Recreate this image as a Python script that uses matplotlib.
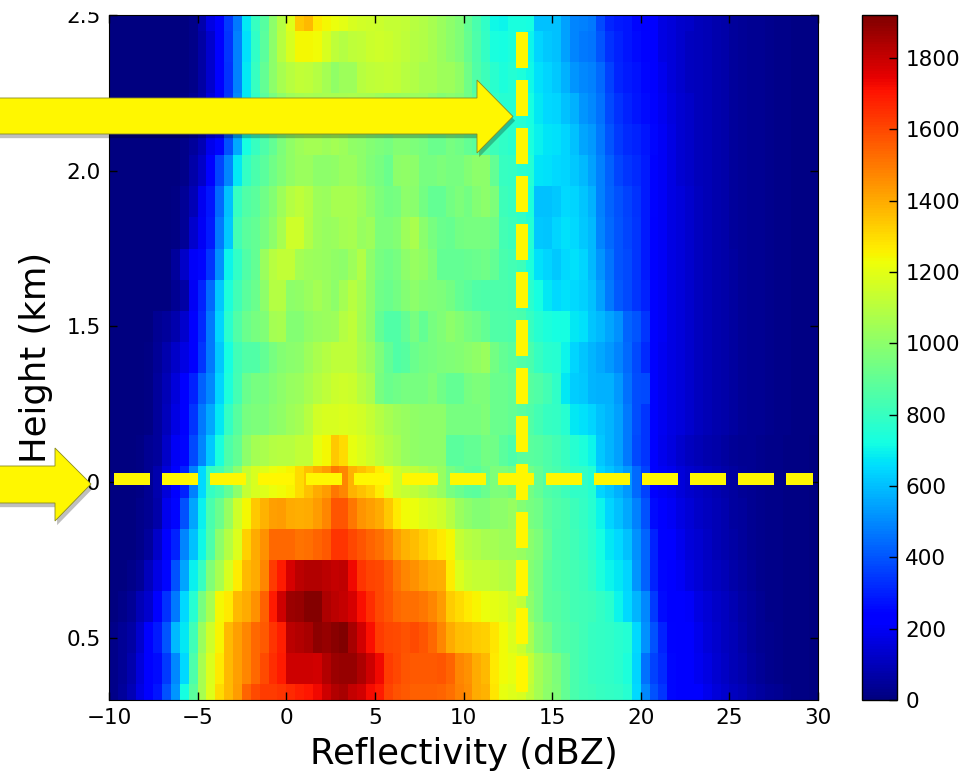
import numpy as np
import matplotlib
matplotlib.use('Agg')
import matplotlib.pyplot as plt
import matplotlib.patheffects as pe
from matplotlib.patches import Polygon, Rectangle

# counts per cell, 0.5 dBZ columns from -10 to 30
r25 = [0,0,0,0,0,0,0,2,5,20, 80,170,220,350,470,680,800,870,1000,1090,
       1190,1340,1370,1270,1240,1220,1200,1170,1160,1150,1140,1130,1130,1120,1100,1080,1060,1030,1000,970,
       900,840,780,710,700,730,730,720,600,600,600,540,490,480,470,380,310,290,280,250,
       230,210,170,150,130,120,100,90,80,70,50,40,35,30,25,20,15,12,10,8]
r24 = [0,0,0,0,0,0,0,2,5,20, 60,130,210,340,480,660,780,880,1000,1100,
       1170,1240,1240,1230,1170,1110,1090,1110,1120,1140,1150,1140,1130,1110,1090,1080,1060,1030,1000,970,
       910,850,790,730,720,740,730,700,640,620,600,540,490,470,460,400,330,300,280,260,
       240,210,170,150,130,110,100,90,80,70,50,40,35,30,25,20,15,12,10,8]
r23 = [0,0,0,0,0,0,0,2,5,20, 60,130,210,330,480,680,800,900,1000,1060,
       1100,1120,1110,1090,1050,1010,1040,1040,1100,1110,1120,1130,1120,1100,1080,1060,1060,1040,1040,1010,
       930,860,810,770,740,750,740,710,660,640,620,570,520,500,480,440,360,310,290,270,
       250,220,180,150,130,110,100,90,80,70,50,40,35,30,25,20,15,12,10,8]
r22 = [0,0,0,0,0,0,0,2,10,30, 70,150,230,340,500,680,780,880,950,1000,
       1040,1050,1060,1050,1060,1060,1060,1070,1060,1050,1040,1020,1020,1030,1030,1030,1000,980,990,980,
       930,880,830,790,760,760,750,720,680,650,640,600,570,520,500,450,380,330,300,280,
       260,240,190,160,140,120,100,90,80,70,50,40,35,30,25,20,15,12,10,8]
r21 = [0,0,0,0,0,0,2,5,20,50, 90,180,250,390,560,720,800,850,900,960,
       1010,1040,1050,1050,1040,1050,1040,1010,1000,980,960,950,980,980,960,950,920,920,950,930,
       900,880,860,810,780,770,760,730,690,670,660,640,600,550,530,470,400,350,320,300,
       280,250,200,170,140,120,100,90,80,70,50,40,35,30,25,20,15,12,10,8]
r20 = [0,0,0,0,0,0,2,5,20,70, 120,210,370,490,680,790,840,880,930,970,
       1010,1030,1030,1000,1000,1010,1030,1030,1000,970,950,920,1000,1010,1000,950,950,960,950,950,
       980,1000,1000,900,800,790,770,750,670,660,650,640,620,590,540,480,420,370,340,320,
       290,240,200,170,140,120,100,90,80,70,50,40,35,30,25,20,15,12,10,8]
r19 = [0,0,0,0,0,0,2,8,40,90, 190,280,440,600,800,860,880,930,980,1040,
       1090,1110,1090,1040,1030,1060,1060,1060,1040,1000,960,940,950,1000,990,940,900,900,940,960,
       940,980,1000,960,810,800,780,740,600,600,620,650,640,610,570,480,430,390,360,330,
       290,240,200,170,150,130,110,95,80,70,50,40,35,30,25,20,15,12,10,8]
r18 = [0,0,0,0,0,0,2,8,40,130, 200,290,470,620,830,880,900,950,1000,1060,
       1150,1150,1080,1040,1020,1030,1050,1060,1020,1040,960,960,980,1040,1070,990,950,920,910,940,
       950,950,950,930,830,810,790,750,620,610,640,660,650,620,590,490,440,400,370,340,
       290,230,200,170,150,130,110,95,80,70,50,40,35,30,25,20,15,12,10,8]
r17 = [0,0,0,0,0,2,5,50,120,205, 250,340,510,700,780,860,900,1030,1100,1120,
       1120,1050,1040,1030,1020,1010,1000,1040,1080,1000,950,930,950,1000,1020,1010,970,900,900,900,
       910,920,930,900,840,830,810,740,660,640,620,650,660,640,590,520,460,400,380,340,
       290,230,200,170,150,130,110,95,80,70,55,40,35,30,25,20,15,12,10,8]
r16 = [0,0,0,0,0,2,5,30,60,200, 300,440,620,740,820,880,920,1000,1090,1090,
       1000,1010,1030,1050,1030,1000,1050,1100,1060,1000,930,920,940,980,1000,980,970,960,940,900,
       880,860,850,850,850,840,820,770,720,680,650,660,650,630,600,540,470,410,380,340,
       300,230,200,170,150,130,110,95,80,70,55,40,35,30,25,20,15,12,10,8]
r15 = [0,0,0,2,5,30,50,80,130,210, 320,470,640,770,860,920,950,970,1050,1060,
       980,980,1010,1020,1030,1040,1090,1110,1050,1000,900,860,860,900,950,900,950,970,1000,980,
       950,930,900,860,860,850,840,800,760,740,720,720,680,660,610,590,550,510,430,400,
       340,220,200,170,150,130,110,95,80,70,55,40,35,30,25,20,15,12,10,8]
r14 = [0,0,0,2,10,40,80,120,170,215, 340,470,620,720,820,860,860,900,950,980,
       990,1000,1040,1070,1090,1110,1110,1110,1070,1030,960,900,860,870,920,940,950,960,970,980,
       990,1010,1030,940,900,880,860,840,800,770,760,700,640,610,580,560,530,490,440,380,
       320,220,190,170,150,130,110,95,80,70,55,40,35,30,25,20,15,12,10,8]
r13 = [0,0,0,2,10,50,90,150,220,300, 420,500,640,740,830,920,950,950,980,1000,
       1020,1030,1060,1090,1110,1140,1150,1140,1100,1070,950,920,930,950,950,950,970,930,900,900,
       950,960,960,920,920,900,880,870,860,830,780,680,625,620,580,575,570,530,455,385,
       380,220,190,170,150,130,110,95,80,70,55,40,35,30,25,20,15,12,10,8]
r12 = [0,0,0,2,10,50,100,170,220,340, 470,560,680,790,870,950,960,960,990,1010,
       1040,1050,1100,1160,1170,1175,1180,1170,1160,1130,1090,1060,1040,1020,1010,1000,1000,1000,950,950,
       950,950,970,920,920,900,880,860,830,800,790,760,680,660,640,600,580,540,470,385,
       340,220,190,170,150,130,110,95,80,70,55,40,35,30,25,20,15,12,10,8]
r11 = [0,0,2,10,30,50,120,200,250,380, 490,620,730,850,900,1000,1050,1070,1090,1100,
       1100,1120,1120,1210,1240,1340,1300,1210,1180,1150,1110,1080,1060,1020,1010,1000,1000,1000,880,880,
       900,900,940,930,880,850,880,880,870,850,830,800,760,740,700,620,580,540,470,380,
       340,210,180,160,130,110,95,80,70,55,40,35,30,25,20,15,12,10,8,5]
r10 = [0,0,2,10,30,80,150,210,300,480, 650,790,830,900,1000,1130,1170,1190,1220,1230,
       1250,1300,1350,1400,1430,1500,1470,1380,1350,1320,1260,1200,1150,1130,1110,1090,1060,1020,950,920,
       890,880,920,960,960,940,960,940,900,860,840,810,780,780,750,640,610,570,530,440,
       360,220,200,180,150,130,115,100,85,70,55,42,30,25,20,15,12,10,8,5]
r09 = [0,0,2,15,35,70,180,250,390,550, 690,840,920,1020,1150,1240,1340,1380,1420,1430,
       1400,1390,1400,1430,1470,1570,1570,1500,1440,1420,1400,1340,1270,1230,1220,1190,1170,1150,1100,1030,
       1000,980,980,1000,1000,1020,980,950,930,880,860,840,810,790,760,700,640,600,560,480,
       390,260,235,200,170,145,125,105,90,75,58,45,32,25,20,15,12,10,8,5]
r08 = [0,2,5,20,45,120,210,300,490,600, 710,850,1000,1090,1180,1320,1400,1450,1530,1530,
       1530,1510,1520,1540,1560,1640,1640,1600,1570,1540,1520,1480,1420,1380,1360,1330,1300,1270,1240,1130,
       1100,1080,1060,1050,1040,1040,1020,990,960,900,850,840,820,800,770,720,680,650,600,510,
       430,300,245,210,185,155,135,115,95,80,62,48,35,25,20,15,12,10,8,5]
r07 = [0,5,15,40,100,170,250,390,550,690, 800,970,1060,1170,1260,1370,1400,1470,1620,1690,
       1770,1820,1830,1830,1820,1800,1810,1730,1640,1610,1600,1560,1510,1470,1450,1420,1400,1390,1260,1180,
       1140,1130,1130,1110,1090,1080,1060,980,950,880,860,840,830,810,780,740,700,680,640,520,
       420,300,250,225,195,170,145,125,105,90,70,55,40,28,20,15,12,10,8,5]
r06 = [5,15,40,90,130,210,330,470,650,760, 950,1060,1240,1270,1370,1400,1450,1550,1690,1790,
       1870,1880,1910,1910,1840,1820,1800,1770,1710,1650,1600,1570,1530,1520,1520,1500,1470,1430,1330,1300,
       1270,1250,1220,1200,1190,1150,1120,1000,950,880,870,850,830,820,810,790,770,700,650,580,
       500,350,260,230,220,205,170,145,125,105,85,65,48,32,22,16,12,10,8,5]
r05 = [20,40,60,130,210,290,400,590,680,820, 1030,1150,1250,1370,1420,1470,1530,1560,1640,1680,
       1820,1830,1850,1890,1880,1900,1920,1850,1780,1710,1620,1600,1590,1580,1590,1570,1530,1470,1400,1360,
       1350,1330,1320,1280,1230,1180,1140,1060,980,940,880,860,840,820,800,790,780,770,750,650,
       510,390,300,240,225,210,185,155,130,110,90,70,50,35,25,18,13,10,8,5]
r04 = [20,40,80,150,210,260,350,500,650,850, 1060,1180,1270,1370,1420,1470,1530,1590,1650,1690,
       1790,1790,1790,1780,1830,1870,1880,1880,1840,1790,1730,1620,1600,1570,1560,1560,1560,1570,1540,1470,
       1450,1400,1370,1270,1230,1210,1170,1130,1050,1010,960,900,840,820,800,790,780,770,740,640,
       450,360,320,250,230,220,190,165,135,115,95,75,55,40,28,20,14,10,8,5]
r03 = [20,45,90,170,210,280,390,520,720,880, 1060,1190,1300,1370,1430,1540,1590,1620,1620,1640,
       1660,1680,1700,1730,1790,1830,1850,1800,1780,1720,1690,1610,1580,1560,1550,1550,1550,1540,1520,1480,
       1460,1400,1380,1280,1210,1190,1170,1110,1050,1000,970,900,840,820,810,800,790,780,760,650,
       500,390,340,250,230,220,210,180,150,130,110,90,70,55,40,30,20,12,8,5]

rows = [r25, r24, r23, r22, r21, r20, r19, r18, r17, r16, r15, r14,
        r13, r12, r11, r10, r09, r08, r07, r06, r05, r04, r03]

x_edges = np.arange(-10, 30.5, 0.5)
y_edges = np.arange(2.55, 0.2, -0.1)
x_ticks = [-10, -5, 0, 5, 10, 15, 20, 25, 30]
y_ticks = [0.5, 1.0, 1.5, 2.0, 2.5]
cb_ticks = [0, 200, 400, 600, 800, 1000, 1200, 1400, 1600, 1800]

W, H = 965, 772
fig = plt.figure(figsize=(W/100, H/100), dpi=100)

def box(l, t, r, b):
    return [l/W, 1-b/H, (r-l)/W, (b-t)/H]

def px(points):
    return [(p[0]/W, 1-p[1]/H) for p in points]

ax = fig.add_axes(box(109, 15, 818, 700))
mesh = ax.pcolormesh(x_edges, y_edges, np.array(rows), cmap='jet', vmin=0, vmax=1920)
ax.set_xlim(-10, 30)
ax.set_ylim(0.3, 2.5)
ax.set_xticks(x_ticks)
ax.set_yticks(y_ticks)
ax.set_yticklabels(['%.1f' % v for v in y_ticks])
ax.tick_params(direction='in', length=6, width=1, labelsize=15.5, pad=6, top=True, right=True)

# dashed guide lines
ax.plot([-9.72, 29.73], [1.01, 1.01], color='#fff700', lw=8.64, dashes=(3, 1), dash_capstyle='butt')
ax.plot([13.3, 13.3], [2.445, 0.323], color='#fff700', lw=8.64, dashes=(3, 1), dash_capstyle='butt')

cax = fig.add_axes(box(862, 15, 897, 700))
cb = fig.colorbar(mesh, cax=cax, ticks=cb_ticks)
cb.ax.tick_params(direction='in', length=6, width=1, labelsize=15.5, pad=6)
cb.outline.set_linewidth(1)

fig.text(464/W, 1-754/H, 'Reflectivity (dBZ)', fontsize=25.5, ha='center', va='center')
fig.text(36/W, 1-357/H, 'Height (km)', fontsize=25.5, rotation=90, ha='center', va='center')

# the reference is cropped just above the axes
fig.patches.append(Rectangle((0, 1-11/H), 1, 11/H, transform=fig.transFigure, color='white', zorder=9, figure=fig))

arrow1 = [(-5, 98), (477, 98), (477, 80), (513, 116.5), (477, 153), (477, 134), (-5, 134)]
arrow2 = [(-5, 466), (55, 466), (55, 448), (91, 484), (55, 521), (55, 503), (-5, 503)]
for pts in [arrow1, arrow2]:
    p = Polygon(px(pts), closed=True, transform=fig.transFigure, facecolor='#fff700',
                edgecolor='#8a8a20', lw=0.6, zorder=10, figure=fig)
    p.set_path_effects([pe.SimplePatchShadow(offset=(1.5, -3), shadow_rgbFace='k', alpha=0.25), pe.Normal()])
    fig.patches.append(p)

fig.savefig('out.png', dpi=100)
